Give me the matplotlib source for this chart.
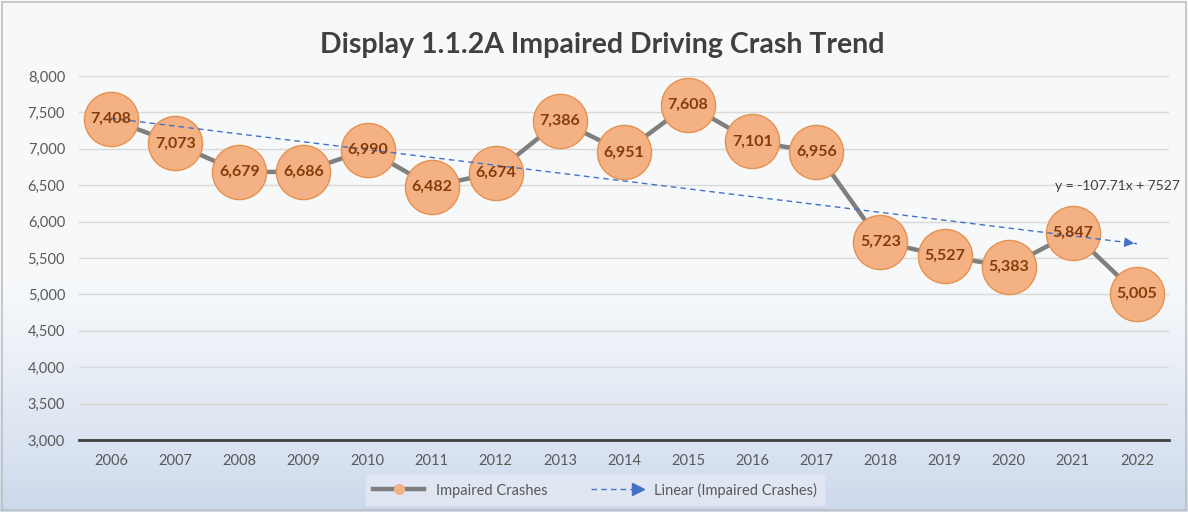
import numpy as np
import matplotlib
matplotlib.use("Agg")
import matplotlib.pyplot as plt
from matplotlib.lines import Line2D
from matplotlib.legend_handler import HandlerBase
from matplotlib.patches import Rectangle

plt.rcParams['font.family'] = ['Lato', 'DejaVu Sans']

# data
years = [2006, 2007, 2008, 2009, 2010, 2011, 2012, 2013, 2014,
         2015, 2016, 2017, 2018, 2019, 2020, 2021, 2022]
crashes = [7408, 7073, 6679, 6686, 6990, 6482, 6674, 7386, 6951,
           7608, 7101, 6956, 5723, 5527, 5383, 5847, 5005]
trend_slope = -107.71
trend_intercept = 7527

x = np.array(years)
idx = np.arange(1, len(years) + 1)
trend = trend_slope * idx + trend_intercept

fig = plt.figure(figsize=(11.88, 5.12), dpi=100)

# gradient background
bg = fig.add_axes([0, 0, 1, 1], zorder=-10)
grad = np.linspace(0, 1, 256).reshape(-1, 1)
top = np.array([0.965, 0.973, 0.984])
bottom = np.array([0.80, 0.85, 0.925])
w = np.clip((grad - 0.55) / 0.45, 0, 1) ** 1.2
colors = top * (1 - w) + bottom * w
bg.imshow(colors.reshape(256, 1, 3), aspect='auto', extent=[0, 1, 0, 1])
bg.add_patch(Rectangle((0.002, 0.003), 0.996, 0.994, fill=False,
                       edgecolor='#BFBFBF', lw=1.2, transform=bg.transAxes))
bg.set_axis_off()

ax = fig.add_axes([0.0665, 0.1406, 0.9175, 0.711])
ax.set_facecolor('none')

ax.plot(x, crashes, color='#7F7F7F', lw=3.2, zorder=2, solid_capstyle='round')
ax.plot(x, crashes, 'o', ms=39, mfc='#F4B183', mec='#E5924F', mew=1.0, zorder=3)
for xi, yi in zip(x, crashes):
    ax.text(xi, yi, f"{yi:,}", ha='center', va='center', fontsize=11.5,
            fontweight='bold', color='#843C0C', zorder=5)

# trend line
ax.plot(x, trend, color='#4472C4', lw=1.0, ls=(0, (4, 3)), zorder=4)
ax.annotate('', xy=(x[-1], trend[-1]), xytext=(x[-1] - 0.2, trend[-1] - trend_slope * 0.2),
            arrowprops=dict(arrowstyle='-|>', color='#4472C4', lw=1.0,
                            mutation_scale=14), zorder=4)
ax.text(2021.7, 6490, 'y = -107.71x + 7527', ha='center', va='center',
        fontsize=10, color='#404040')

ax.set_xlim(2005.5, 2022.5)
ax.set_ylim(3000, 8000)
ax.set_yticks(np.arange(3000, 8001, 500))
ax.yaxis.set_major_formatter(matplotlib.ticker.FuncFormatter(lambda v, p: f"{int(v):,}"))
ax.set_xticks(x)
ax.tick_params(length=0, labelsize=10.5, colors='#595959', pad=10)
ax.grid(axis='y', color='#D9D9D9', lw=1.0)
ax.set_axisbelow(True)
for s in ['top', 'right', 'left']:
    ax.spines[s].set_visible(False)
ax.spines['bottom'].set_color('#404040')
ax.spines['bottom'].set_linewidth(2)
ax.spines['bottom'].set_zorder(1)

fig.text(0.507, 0.912, 'Display 1.1.2A Impaired Driving Crash Trend',
         ha='center', va='center', fontsize=20.5, fontweight='bold', color='#404040')


class ArrowHandler(HandlerBase):
    def create_artists(self, legend, orig_handle, xdescent, ydescent,
                       width, height, fontsize, trans):
        y = height / 2 - ydescent
        line = Line2D([-xdescent, width - xdescent - 4], [y, y], color='#4472C4',
                      lw=1.0, ls=(0, (4, 3)), transform=trans)
        head = Line2D([width - xdescent - 3], [y], marker='>', ms=8, color='#4472C4',
                      lw=0, transform=trans)
        return [line, head]


h1 = Line2D([], [], color='#7F7F7F', lw=3.2, marker='o', ms=7,
            mfc='#F4B183', mec='#F4B183')
h2 = Line2D([], [])
leg = fig.legend([h1, h2], ['Impaired Crashes', 'Linear (Impaired Crashes)'],
                 handler_map={h2: ArrowHandler()}, loc='center',
                 bbox_to_anchor=(0.501, 0.043), ncol=2, frameon=True,
                 fontsize=10.5, handlelength=3.5, columnspacing=3,
                 fancybox=False, borderpad=0.5)
leg.get_frame().set_facecolor('#E4EAF4')
leg.get_frame().set_edgecolor('#E4EAF4')
for t in leg.get_texts():
    t.set_color('#595959')

fig.savefig('out.png', dpi=100)
